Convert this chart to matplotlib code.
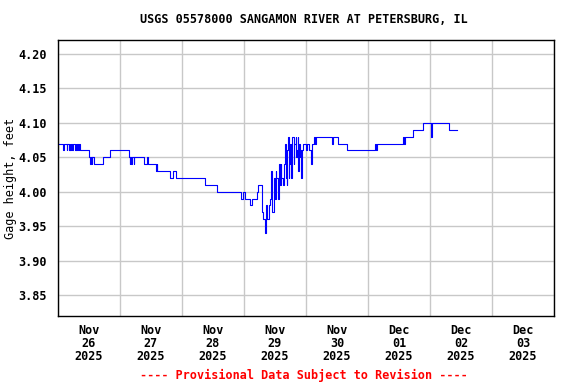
import pandas as pd
import matplotlib
matplotlib.use("Agg")
import matplotlib.pyplot as plt
import matplotlib.dates as mdates

# gage height readings, hours after 2025-11-26 00:00 (step changes)
hours = [0, 2.0, 2.3, 3.3, 3.6, 4.2, 4.5, 4.8, 5.1, 5.4, 5.7, 6.5, 6.8, 7.1, 7.4, 7.8, 8.1, 8.5,
         12.0, 12.3, 12.8, 13.0, 13.3, 14.0, 17.5, 20.2,
         27.4, 27.7, 28.0, 28.4, 28.7, 29.3, 29.6, 33.3, 34.6, 35.0, 37.9, 38.2, 38.5,
         43.3, 44.6, 45.5, 56.9, 61.4,
         69.5, 70.0, 70.5, 71.0, 71.5, 72.0, 72.5, 73.0, 73.5, 74.0, 74.5, 75.0, 75.5, 76.0,
         76.5, 77.0, 77.5, 78.0, 78.5, 79.0, 79.5, 80.0, 80.5, 81.0, 81.5, 82.0, 82.5, 83.0,
         83.5, 84.0, 84.25, 84.5, 85.0, 85.25, 85.5, 86.0, 86.25, 86.5, 87.0, 87.25, 87.5,
         88.0, 88.25, 88.5, 88.75, 89.0, 89.25, 89.5, 89.75, 90.0, 90.25, 90.5, 90.75,
         91.0, 91.25, 91.5, 92.0, 92.25, 92.5, 92.75, 93.0, 93.25, 93.5, 93.75, 94.0, 94.5,
         95.0, 95.5, 96.0, 96.5, 97.0, 97.5, 98.0, 98.5, 99.0, 99.5, 100.0,
         105.9, 106.3, 108.5, 112.0, 122.9, 123.1, 123.4, 133.6, 133.9, 134.2, 137.3,
         141.1, 144.3, 144.6, 151.4, 154.3]
gage_ft = [4.07, 4.06, 4.07, 4.06, 4.07, 4.06, 4.07, 4.06, 4.07, 4.06, 4.07, 4.06, 4.07, 4.06,
           4.07, 4.06, 4.07, 4.06,
           4.05, 4.04, 4.05, 4.04, 4.05, 4.04, 4.05, 4.06,
           4.05, 4.04, 4.05, 4.04, 4.05, 4.04, 4.05, 4.04, 4.05, 4.04, 4.03, 4.04, 4.03,
           4.02, 4.03, 4.02, 4.01, 4.00,
           4.00, 4.00, 4.00, 3.99, 4.00, 4.00, 3.99, 3.99, 3.99, 3.99, 3.98, 3.99, 3.99, 3.99,
           3.99, 4.00, 4.01, 4.01, 4.01, 3.97, 3.96, 3.94, 3.98, 3.96, 3.98, 3.99, 4.03, 3.97,
           4.02, 3.99, 4.03, 4.02, 4.02, 3.99, 4.04, 4.01, 4.04, 4.02, 4.02, 4.01, 4.04,
           4.07, 4.02, 4.01, 4.06, 4.08, 4.02, 4.04, 4.07, 4.07, 4.02, 4.03, 4.08,
           4.08, 4.04, 4.07, 4.08, 4.05, 4.06, 4.08, 4.03, 4.07, 4.05, 4.06, 4.02, 4.06,
           4.07, 4.07, 4.06, 4.07, 4.06, 4.06, 4.04, 4.07, 4.08, 4.07, 4.08,
           4.07, 4.08, 4.07, 4.06, 4.07, 4.06, 4.07, 4.08, 4.07, 4.08, 4.09,
           4.10, 4.08, 4.10, 4.09, 4.09]

y_ticks = [3.85, 3.90, 3.95, 4.00, 4.05, 4.10, 4.15, 4.20]

start = pd.Timestamp("2025-11-26")
t = start + pd.to_timedelta(hours, unit="h")

plt.rcParams["font.family"] = "DejaVu Sans Mono"
plt.rcParams["font.weight"] = "bold"
plt.rcParams["font.size"] = 8.5

fig = plt.figure(figsize=(5.76, 3.84), dpi=100)
ax = fig.add_axes([58/576, 1-316/384, 496/576, 276/384])

ax.plot(t, gage_ft, color="#0000ff", lw=0.8, drawstyle="steps-post")

ax.set_xlim(start, start + pd.Timedelta(days=8))
ax.set_ylim(3.8195, 4.2203)
ax.set_yticks(y_ticks)
ax.yaxis.set_major_formatter(plt.FormatStrFormatter("%.2f"))

# grid at midnight, labels at noon
ax.xaxis.set_major_locator(mdates.DayLocator())
ax.xaxis.set_major_formatter(plt.NullFormatter())
ax.xaxis.set_minor_locator(mdates.HourLocator(byhour=12))
ax.xaxis.set_minor_formatter(mdates.DateFormatter("%b\n%d\n%Y"))
ax.tick_params(axis="both", which="both", length=0)
ax.tick_params(axis="x", which="minor", pad=6)
ax.tick_params(axis="y", pad=8)

ax.grid(True, which="major", color="#c8c8c8", lw=1)
ax.set_axisbelow(True)
for s in ax.spines.values():
    s.set_color("black")
    s.set_linewidth(1)

ax.set_ylabel("Gage height, feet")
ax.yaxis.set_label_coords(-0.083, 0.5)

fig.text(0.528, 0.95, "USGS 05578000 SANGAMON RIVER AT PETERSBURG, IL",
         ha="center", va="center")
fig.text(0.528, 0.023, "---- Provisional Data Subject to Revision ----",
         ha="center", va="center", color="#ff0000")

fig.canvas.draw()
plt.setp(ax.get_xminorticklabels(), linespacing=1.0)

fig.savefig("out.png", dpi=100)
